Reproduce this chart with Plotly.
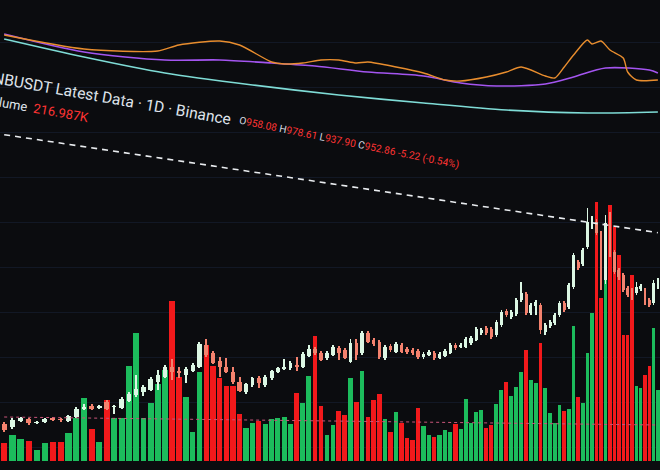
import numpy as np
import plotly.graph_objects as go

# ---- data ----
# day number counted from 2025-03-07; first candle = 2025-07-02 (day 117)
start_day = 117
open_ = [638, 629, 647, 653, 641, 644, 656, 653, 647, 659, 683, 692, 686, 704, 689, 686, 707, 725, 734, 740,
         764, 779, 809, 797, 785, 797, 809, 875, 851, 827, 809, 794, 764, 734, 755, 776, 755, 776, 794, 803,
         806, 815, 809, 842, 863, 851, 836, 845, 866, 860, 824, 881, 851, 911, 890, 884, 836, 872, 854, 875,
         863, 860, 857, 839, 845, 851, 836, 842, 851, 875, 869, 869, 881, 890, 911, 926, 923, 905, 935, 977,
         959, 968, 1010, 1028, 971, 992, 995, 914, 932, 941, 965, 1001, 989, 1049, 1124, 1118, 1169, 1229, 1244, 1211,
         1070, 1244, 1154, 1100, 1085, 1046, 1040, 1031, 1043, 1040, 1010, 1001, 1049]
high = [644, 656, 660, 657, 648, 657, 660, 657, 666, 688, 698, 697, 696, 710, 696, 718, 733, 785, 755, 778,
        800, 815, 833, 809, 808, 820, 884, 893, 857, 839, 836, 809, 779, 762, 780, 781, 784, 801, 810, 833,
        826, 839, 853, 875, 868, 856, 856, 874, 871, 865, 893, 893, 917, 917, 896, 890, 874, 878, 884, 880,
        868, 865, 862, 853, 859, 856, 853, 862, 880, 880, 880, 898, 902, 929, 926, 932, 929, 950, 980, 983,
        980, 1016, 1064, 1034, 1001, 1010, 1001, 941, 950, 971, 1007, 1007, 1061, 1152, 1130, 1166, 1286, 1262, 1253, 1217,
        1265, 1274, 1160, 1106, 1091, 1052, 1046, 1064, 1058, 1046, 1016, 1070, 1076]
low = [614, 623, 643, 636, 637, 640, 646, 645, 643, 655, 680, 679, 682, 679, 668, 682, 703, 720, 722, 736,
       740, 775, 770, 776, 761, 793, 805, 839, 817, 779, 791, 758, 734, 728, 750, 746, 750, 771, 790, 800,
       801, 797, 805, 839, 846, 826, 831, 841, 830, 832, 821, 830, 846, 880, 872, 833, 830, 855, 850, 850,
       849, 846, 834, 834, 841, 831, 832, 838, 847, 861, 865, 865, 876, 886, 906, 905, 893, 900, 930, 958,
       954, 963, 1005, 965, 966, 965, 908, 905, 927, 936, 960, 974, 984, 1043, 1100, 1112, 1163, 1222, 1205, 1040,
       1058, 1139, 1088, 1070, 1034, 1019, 1010, 1025, 1037, 995, 989, 995, 1043]
close = [620, 650, 656, 641, 644, 653, 650, 650, 662, 683, 689, 683, 692, 683, 692, 713, 728, 743, 749, 773,
         785, 809, 794, 791, 803, 815, 878, 845, 821, 809, 794, 764, 737, 758, 776, 761, 779, 797, 806, 809,
         821, 809, 848, 863, 851, 830, 851, 869, 851, 836, 881, 845, 911, 884, 878, 839, 869, 860, 878, 854,
         854, 851, 839, 848, 854, 836, 848, 857, 875, 866, 875, 893, 896, 923, 920, 911, 899, 944, 974, 965,
         974, 1010, 1031, 971, 995, 1004, 920, 935, 944, 965, 1001, 980, 1055, 1145, 1106, 1160, 1244, 1247, 1211, 1064,
         1241, 1145, 1094, 1079, 1040, 1025, 1016, 1049, 1052, 1001, 995, 1061, 1064]
volume_k = [54, 78, 66, 60, 33, 54, 57, 57, 84, 129, 189, 96, 57, 183, 129, 129, 285, 384, 129, 174,
            231, 273, 480, 252, 192, 87, 267, 348, 285, 249, 225, 225, 141, 99, 114, 120, 111, 126, 129, 132,
            111, 204, 174, 255, 375, 165, 78, 108, 150, 138, 249, 177, 270, 132, 183, 201, 126, 87, 147, 114,
            69, 63, 159, 105, 78, 72, 78, 93, 87, 111, 96, 186, 114, 147, 153, 99, 108, 171, 213, 237,
            195, 222, 267, 333, 243, 234, 354, 219, 144, 114, 168, 150, 156, 405, 192, 174, 324, 444, 777, 489,
            708, 768, 702, 618, 378, 378, 558, 225, 219, 258, 285, 399, 213]

# moving-average style lines at the top (sparse readings: day, value)
orange_days = [117, 127, 137, 140, 146, 149, 154, 156, 159, 162, 165, 168, 170, 175, 180, 184,
               187, 192, 196, 199, 204, 206, 208, 210, 213, 214, 216, 218, 221, 222, 224, 229]
orange_vals = [1805, 1763, 1757, 1775, 1787, 1775, 1724, 1718, 1721, 1730, 1730, 1721, 1724, 1709, 1691, 1670,
               1667, 1679, 1694, 1709, 1682, 1676, 1709, 1745, 1790, 1778, 1787, 1760, 1736, 1694, 1670, 1670]
purple_days = [117, 127, 138, 146, 154, 161, 170, 180, 187, 194, 204, 210, 217, 227, 229]
purple_vals = [1808, 1754, 1730, 1730, 1721, 1712, 1694, 1682, 1661, 1652, 1658, 1679, 1706, 1700, 1691]
cyan_days = [117, 127, 138, 151, 165, 180, 196, 213, 229]
cyan_vals = [1793, 1739, 1691, 1655, 1625, 1601, 1580, 1571, 1574]

trend_days = [117, 229]
trend_vals = [1506, 1212]
vol_ma_days = [117, 229]
vol_ma_vals = [659, 635]

tick_days = [178, 208]
tick_labels = ["Sep", "Oct"]

# ---- figure ----
o = np.array(open_, dtype=float)
c = np.array(close, dtype=float)
h = np.array(high, dtype=float)
l = np.array(low, dtype=float)
n = len(c)
days = start_day + np.arange(n)
up = c >= o
GREEN = "#1cbc5c"
RED = "#f2191b"
UPC = "#dcf7e4"
DNC = "#f4826e"
bar_colors = [GREEN if u else RED for u in up]
candle_colors = [UPC if u else DNC for u in up]

body_base = np.minimum(o, c)
body_h = np.maximum(np.abs(c - o), 3.0)

fig = go.Figure()
fig.add_trace(go.Bar(x=days, y=volume_k, marker=dict(color=bar_colors, line=dict(width=0)),
                     width=0.8, yaxis="y"))
fig.add_trace(go.Scatter(x=vol_ma_days, y=vol_ma_vals, mode="lines", yaxis="y2",
                         line=dict(color="#c9557a", width=1, dash="dot")))
# candle wicks and bodies
fig.add_trace(go.Bar(x=days, y=h - l, base=l, width=0.16, yaxis="y2",
                     marker=dict(color=candle_colors, line=dict(width=0))))
fig.add_trace(go.Bar(x=days, y=body_h, base=body_base, width=0.62, yaxis="y2",
                     marker=dict(color=candle_colors, line=dict(width=0))))
fig.add_trace(go.Scatter(x=trend_days, y=trend_vals, mode="lines", yaxis="y2",
                         line=dict(color="#e9ecef", width=1.6, dash="6px,5px")))
fig.add_trace(go.Scatter(x=cyan_days, y=cyan_vals, mode="lines", yaxis="y2",
                         line=dict(color="#7fdcd6", width=1.6, shape="spline", smoothing=0.8)))
fig.add_trace(go.Scatter(x=purple_days, y=purple_vals, mode="lines", yaxis="y2",
                         line=dict(color="#a455f0", width=1.6, shape="spline", smoothing=0.8)))
fig.add_trace(go.Scatter(x=orange_days, y=orange_vals, mode="lines", yaxis="y2",
                         line=dict(color="#e88d2e", width=1.4, shape="spline", smoothing=0.7)))

red_t = "color:#ff3434"
FONT = "Roboto, Open Sans, sans-serif"
annotations = [
    dict(text="BNBUSDT Latest Data · 1D · Binance", x=107 / 660, y=1 - 98 / 470, textangle=10,
         font=dict(family=FONT, size=15.6, color="#dfe3ea")),
    dict(text=(f"O<span style='{red_t}'>958.08</span> H<span style='{red_t}'>978.61</span> "
               f"L<span style='{red_t}'>937.90</span> C<span style='{red_t}'>952.86</span> "
               f"<span style='{red_t}'>-5.22 (-0.54%)</span>"),
         x=349 / 660, y=1 - 143 / 470, textangle=11.5,
         font=dict(family=FONT, size=10.2, color="#d5dae2")),
    dict(text=f"Volume  <span style='{red_t}'>216.987K</span>", x=36 / 660, y=1 - 109 / 470, textangle=10,
         font=dict(family=FONT, size=13, color="#dfe3ea")),
]
for a in annotations:
    a.update(xref="paper", yref="paper", xanchor="center", yanchor="middle", showarrow=False)
for d, lab in zip(tick_days, tick_labels):
    annotations.append(dict(text=lab, x=d, y=0, xref="x", yref="paper", xanchor="center",
                            yanchor="middle", showarrow=False,
                            font=dict(family=FONT, size=11, color="#b8bcc4")))

fig.update_layout(
    width=660, height=470, autosize=False,
    margin=dict(l=0, r=0, t=0, b=0),
    paper_bgcolor="#0b0c0f", plot_bgcolor="#0b0c0f",
    showlegend=False, hovermode=False, barmode="overlay", bargap=0,
    xaxis=dict(type="log", range=[np.log10(116.5), np.log10(229.5)], showgrid=False, zeroline=False,
               showticklabels=False, fixedrange=True),
    yaxis=dict(range=[-27, 1383], showgrid=False, zeroline=False, showticklabels=False),
    yaxis2=dict(range=[500, 1910], overlaying="y", showgrid=True, gridcolor="#121825", gridwidth=1,
                tick0=704, dtick=135, zeroline=False, showticklabels=False),
    annotations=annotations,
)

fig.write_html("out.html", config={"displayModeBar": False},
               post_script="document.body.style.margin='0';document.body.style.overflow='hidden';")
